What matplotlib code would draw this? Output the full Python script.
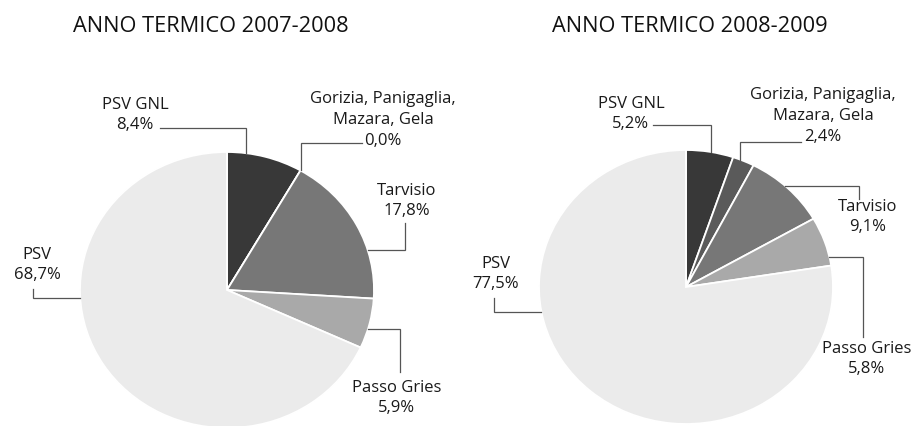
import numpy as np
import matplotlib
matplotlib.use('Agg')
import matplotlib.pyplot as plt

plt.rcParams['font.family'] = ['Open Sans', 'DejaVu Sans']

# Data
categories = ['PSV GNL', 'Gorizia, Panigaglia,\nMazara, Gela', 'Tarvisio', 'Passo Gries', 'PSV']
share_0708 = [8.4, 0.0, 17.8, 5.9, 68.7]
share_0809 = [5.2, 2.4, 9.1, 5.8, 77.5]
titles = ['ANNO TERMICO 2007-2008', 'ANNO TERMICO 2008-2009']

colors = ['#383838', '#5a5a5a', '#777777', '#a9a9a9', '#ebebeb']

W, H = 912, 426
fig = plt.figure(figsize=(W / 100, H / 100), dpi=100)

# pie geometry in pixels: centre x, centre y, radius x, radius y
geoms = [(227, 290, 147, 138), (686, 287, 147, 137)]

# label layout per chart: text centre (px), where the leader leaves the text,
# leader corner style and relative position (clockwise) inside the wedge
layouts = [
    [  # 2007-2008
        dict(text=(135, 115), start=(160, 128), mode='hv', frac=0.25),
        dict(text=(383, 120), start=(362, 143), mode='hv', frac=0.5),
        dict(text=(407, 201), start=(405, 223), mode='vh', frac=0.68),
        dict(text=(397, 398), start=(400, 372), mode='vh', frac=0.6),
        dict(text=(37, 265), start=(33, 289), mode='vh', frac=0.62),
    ],
    [  # 2008-2009
        dict(text=(631, 114), start=(653, 125), mode='hv', frac=0.53),
        dict(text=(823, 116), start=(801, 142), mode='hv', frac=0.32),
        dict(text=(868, 217), start=(859, 199), mode='vh', frac=0.46),
        dict(text=(867, 359), start=(863, 337), mode='vh', frac=0.83),
        dict(text=(496, 274), start=(494, 298), mode='vh', frac=0.64),
    ],
]

for k, (shares, title, (cx, cy, rx, ry), layout) in enumerate(
        zip([share_0708, share_0809], titles, geoms, layouts)):
    x0 = k * W / 2
    ax = fig.add_axes([x0 / W, 0, 0.5, 1])
    wedges, _ = ax.pie(shares, colors=colors, startangle=90, counterclock=False,
                       wedgeprops=dict(edgecolor='white', linewidth=1.3))
    ax.set_aspect('auto')
    ax.set_xlim((x0 - cx) / rx, (x0 + W / 2 - cx) / rx)
    ax.set_ylim((cy - H) / ry, cy / ry)
    ax.axis('off')

    def to_data(px, py):
        return (px - cx) / rx, (cy - py) / ry

    tx, ty = to_data(211 + k * 479, 27)
    ax.text(tx, ty, title, ha='center', va='center', fontsize=15.7,
            fontweight='medium', color='#111111')

    for cat, val, w, lay in zip(categories, shares, wedges, layout):
        label = f"{cat}\n{val:.1f}%".replace('.', ',')
        lx, ly = to_data(*lay['text'])
        ax.text(lx, ly, label, ha='center', va='center', fontsize=12,
                fontweight='medium', linespacing=1.4, color='#1a1a1a')
        # clockwise wedges: theta2 is where the wedge starts
        ang = np.radians(w.theta2 - lay['frac'] * (w.theta2 - w.theta1))
        ex, ey = np.cos(ang), np.sin(ang)
        sx, sy = to_data(*lay['start'])
        if lay['mode'] == 'hv':
            xs, ys = [sx, ex, ex], [sy, sy, ey]
        else:
            xs, ys = [sx, sx, ex], [sy, ey, ey]
        ax.plot(xs, ys, color='#555555', linewidth=0.9, solid_joinstyle='miter')

fig.savefig('out.png', dpi=100)
